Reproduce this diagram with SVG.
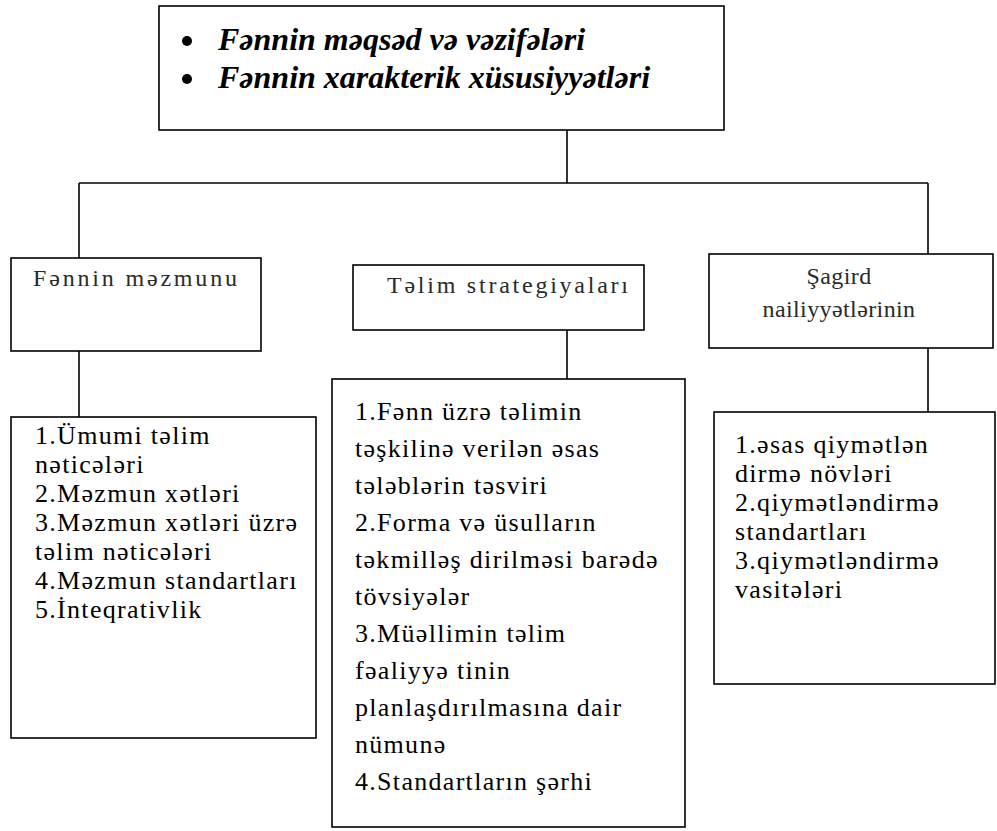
<svg xmlns="http://www.w3.org/2000/svg" width="997" height="831" viewBox="0 0 997 831">
<style>
.box{fill:#fff;stroke:#000;stroke-width:1.6}
.con{stroke:#000;stroke-width:1.6;fill:none}
.top{font-family:"Liberation Serif","Times New Roman",serif;font-size:32px;font-weight:bold;font-style:italic;fill:#000}
.hd{font-family:"Liberation Serif","Times New Roman",serif;font-size:24px;fill:#2a2a2a}
.ct{font-family:"Liberation Serif","Times New Roman",serif;font-size:26px;fill:#000;letter-spacing:1.3px}
</style>
<rect width="997" height="831" fill="#fff"/>
<g id="connectors">
<line class="con" x1="567" y1="130" x2="567" y2="183"/>
<line class="con" x1="79" y1="183" x2="928" y2="183"/>
<line class="con" x1="79" y1="183" x2="79" y2="258"/>
<line class="con" x1="928" y1="183" x2="928" y2="254"/>
<line class="con" x1="79" y1="351" x2="79" y2="417"/>
<line class="con" x1="567" y1="330" x2="567" y2="379"/>
<line class="con" x1="928" y1="348" x2="928" y2="412"/>
</g>
<g id="top-node">
<rect class="box" x="159" y="6" width="565" height="124"/>
<circle cx="187" cy="41" r="5"/>
<circle cx="187" cy="79" r="5"/>
<text class="top" x="218" y="50">Fənnin məqsəd və vəzifələri</text>
<text class="top" x="218" y="88">Fənnin xarakterik xüsusiyyətləri</text>
</g>
<g id="node-mezmun">
<rect class="box" x="11" y="258" width="250" height="93"/>
<text class="hd" x="33" y="286" textLength="204" lengthAdjust="spacing">Fənnin məzmunu</text>
</g>
<g id="node-strategiya">
<rect class="box" x="353" y="265" width="291" height="65"/>
<text class="hd" x="387" y="293" textLength="241" lengthAdjust="spacing">Təlim strategiyaları</text>
</g>
<g id="node-sagird">
<rect class="box" x="709" y="254" width="284" height="94"/>
<text class="hd" x="839" y="284" text-anchor="middle" letter-spacing="0.4">Şagird</text>
<text class="hd" x="839" y="317" text-anchor="middle" letter-spacing="0.4">nailiyyətlərinin</text>
</g>
<g id="node-mezmun-list">
<rect class="box" x="11" y="417" width="305" height="321"/>
<text class="ct" x="35" y="444">1.Ümumi təlim</text>
<text class="ct" x="35" y="473">nəticələri</text>
<text class="ct" x="35" y="502">2.Məzmun xətləri</text>
<text class="ct" x="35" y="531">3.Məzmun xətləri üzrə</text>
<text class="ct" x="35" y="560">təlim nəticələri</text>
<text class="ct" x="35" y="589">4.Məzmun standartları</text>
<text class="ct" x="35" y="618">5.İnteqrativlik</text>
</g>
<g id="node-strategiya-list">
<rect class="box" x="332" y="379" width="353" height="448"/>
<text class="ct" x="355" y="420">1.Fənn üzrə təlimin</text>
<text class="ct" x="355" y="457">təşkilinə verilən əsas</text>
<text class="ct" x="355" y="494">tələblərin təsviri</text>
<text class="ct" x="355" y="531">2.Forma və üsulların</text>
<text class="ct" x="355" y="568">təkmilləş dirilməsi barədə</text>
<text class="ct" x="355" y="605">tövsiyələr</text>
<text class="ct" x="355" y="642">3.Müəllimin təlim</text>
<text class="ct" x="355" y="679">fəaliyyə tinin</text>
<text class="ct" x="355" y="716">planlaşdırılmasına dair</text>
<text class="ct" x="355" y="753">nümunə</text>
<text class="ct" x="355" y="790">4.Standartların şərhi</text>
</g>
<g id="node-sagird-list">
<rect class="box" x="714" y="412" width="281" height="272"/>
<text class="ct" x="735" y="453">1.əsas qiymətlən</text>
<text class="ct" x="735" y="482">dirmə növləri</text>
<text class="ct" x="735" y="511">2.qiymətləndirmə</text>
<text class="ct" x="735" y="540">standartları</text>
<text class="ct" x="735" y="569">3.qiymətləndirmə</text>
<text class="ct" x="735" y="598">vasitələri</text>
</g>
</svg>
